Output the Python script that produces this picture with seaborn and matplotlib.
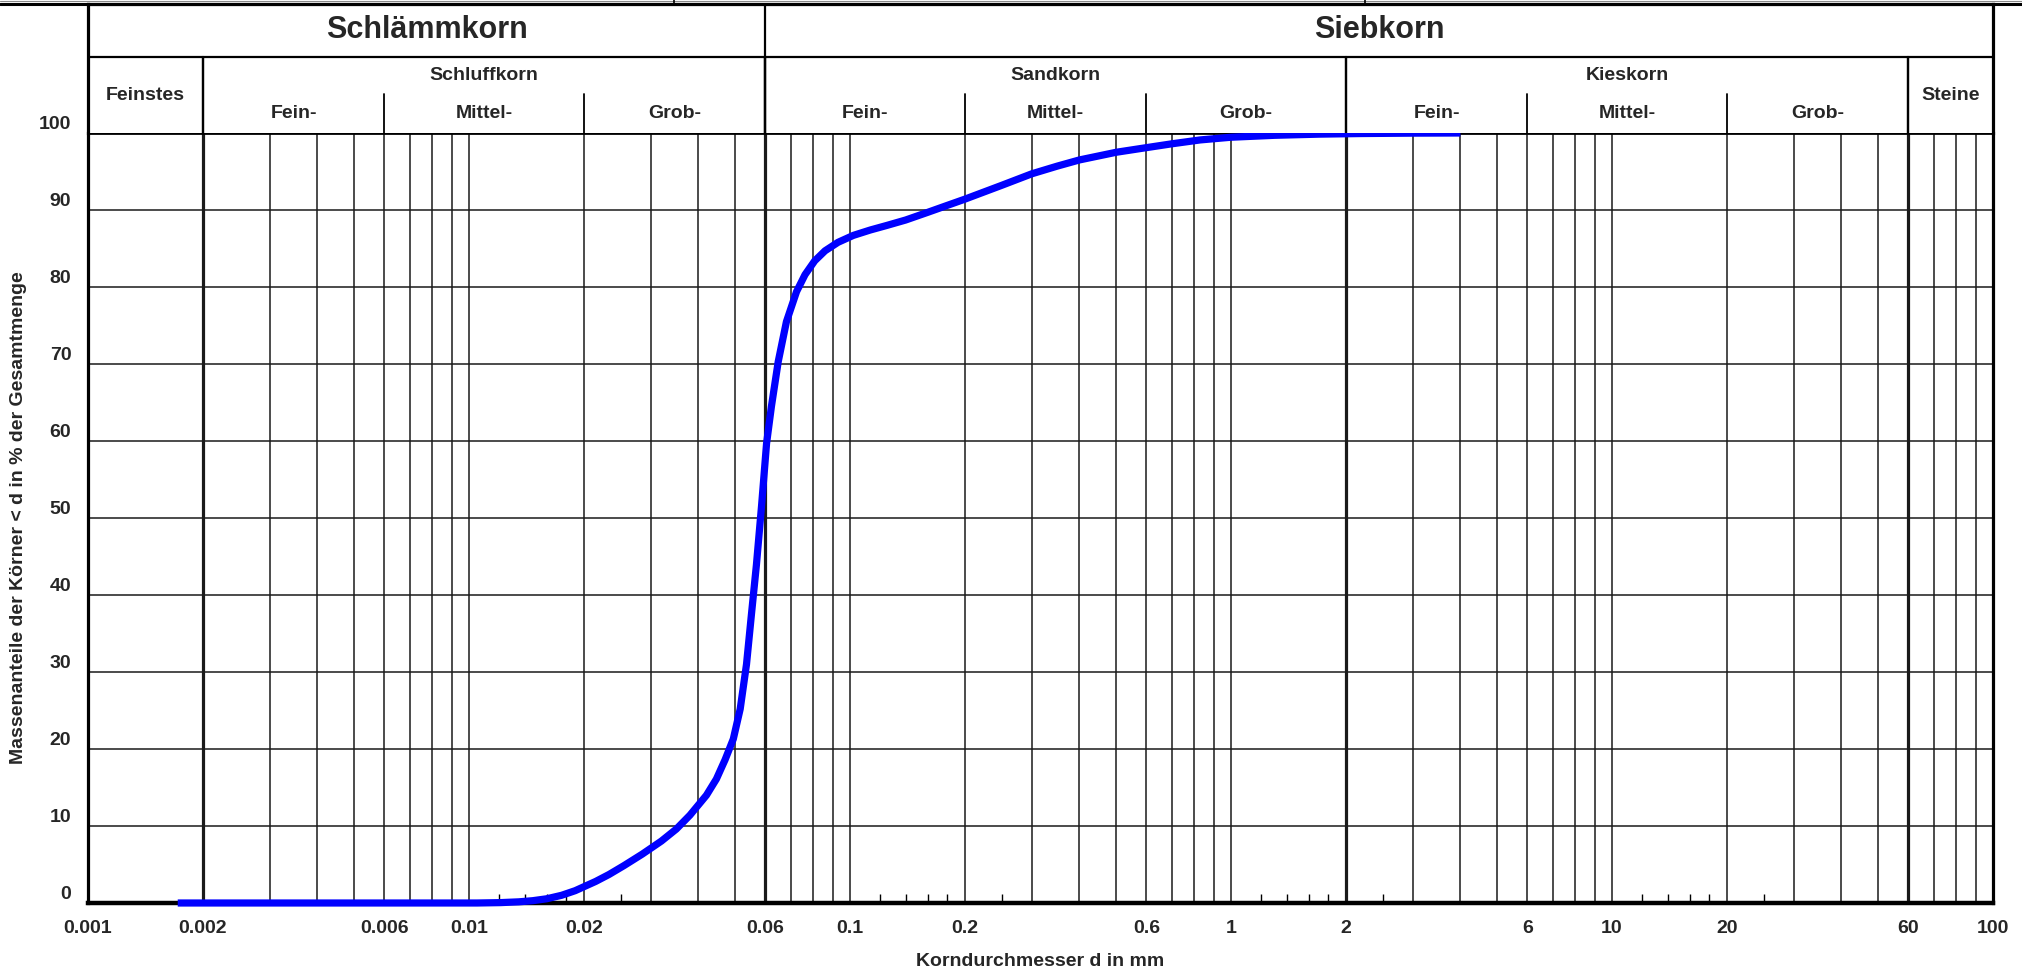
import numpy as np
import pandas as pd
import matplotlib
matplotlib.use('Agg')
import matplotlib.pyplot as plt
from matplotlib.ticker import FixedLocator, FixedFormatter, NullFormatter
from matplotlib.lines import Line2D
import seaborn as sns

# ── Data: grain size distribution (Sieblinie) ─────────────────────────────
diameter_mm = [0.00172, 0.003, 0.005, 0.008, 0.0105, 0.0121, 0.0135, 0.0147,
               0.016, 0.0175, 0.019, 0.02, 0.0215, 0.0233, 0.0255, 0.0285,
               0.032, 0.035, 0.038, 0.042, 0.0446, 0.047, 0.0494, 0.0515,
               0.0535, 0.0551, 0.0568, 0.0586, 0.0604, 0.0622, 0.0648, 0.0681,
               0.0724, 0.0762, 0.0808, 0.0860, 0.0930, 0.102, 0.113, 0.125,
               0.14, 0.16, 0.18, 0.2, 0.25, 0.30, 0.35, 0.40,
               0.50, 0.60, 0.70, 0.83, 1.0, 1.3, 1.7, 2.2,
               3.0, 4.0]
passing_pct = [0, 0, 0, 0, 0, 0.05, 0.15, 0.3,
               0.55, 1.0, 1.6, 2.1, 2.8, 3.7, 4.85, 6.35,
               8.05, 9.6, 11.4, 14.0, 16.1, 18.6, 21.3, 25.2,
               31.0, 37.4, 43.9, 51.6, 59.7, 64.5, 70.3, 75.5,
               79.4, 81.6, 83.4, 84.7, 85.8, 86.7, 87.4, 88.0,
               88.7, 89.7, 90.6, 91.4, 93.2, 94.7, 95.7, 96.5,
               97.5, 98.1, 98.6, 99.1, 99.45, 99.7, 99.85, 99.93,
               99.98, 100]

# axis ticks
xtick_vals = [0.001, 0.002, 0.006, 0.01, 0.02, 0.06, 0.1, 0.2, 0.6, 1, 2, 6, 10, 20, 60, 100]
xtick_labels = ['0.001', '0.002', '0.006', '0.01', '0.02', '0.06', '0.1', '0.2', '0.6',
                '1', '2', '6', '10', '20', '60', '100']
ytick_vals = list(range(0, 101, 10))

# grid: every 1..9 x decade, class limits drawn bold, small ticks in between
decades = [0.001, 0.01, 0.1, 1, 10]
grid_x = [m * d for d in decades for m in range(1, 10)][1:]
bold_x = [0.002, 0.06, 2, 60]
minor_x = [m * d for d in [0.01, 0.1, 1, 10] for m in (1.2, 1.4, 1.6, 1.8, 2.5)]

# header classes (name, lower limit, upper limit)
top_classes = [('Schlämmkorn', 0.001, 0.06), ('Siebkorn', 0.06, 100)]
main_classes = [('Schluffkorn', 0.002, 0.06), ('Sandkorn', 0.06, 2), ('Kieskorn', 2, 60)]
single_classes = [('Feinstes', 0.001, 0.002), ('Steine', 60, 100)]
sub_classes = [('Fein-', 0.002, 0.006), ('Mittel-', 0.006, 0.02), ('Grob-', 0.02, 0.06),
               ('Fein-', 0.06, 0.2), ('Mittel-', 0.2, 0.6), ('Grob-', 0.6, 2),
               ('Fein-', 2, 6), ('Mittel-', 6, 20), ('Grob-', 20, 60)]

df = pd.DataFrame({'d': diameter_mm, 'p': passing_pct})

# ── Style ─────────────────────────────────────────────────────────────────
sns.set_style('white')
plt.rcParams['font.family'] = ['Liberation Sans', 'DejaVu Sans']
plt.rcParams['font.weight'] = 'bold'
plt.rcParams['axes.labelweight'] = 'bold'

W, H = 2022, 976
fig = plt.figure(figsize=(W / 100, H / 100), dpi=100)

def fx(px):
    return px / W

def fy(py):
    return 1 - py / H

GRID_C = '#1a1a1a'
FS = 14

# ── Main axes ─────────────────────────────────────────────────────────────
ax = fig.add_axes([fx(88), fy(903), fx(1993) - fx(88), fy(133) - fy(903)])
ax.set_xscale('log')
ax.set_xlim(0.001, 100)
ax.set_ylim(0, 100)

for x in grid_x:
    lw = 2.3 if any(np.isclose(x, b) for b in bold_x) else 1.1
    ax.axvline(x, color=GRID_C, lw=lw, zorder=1)
for y in ytick_vals[1:-1]:
    ax.axhline(y, color=GRID_C, lw=1.1, zorder=1)

sns.lineplot(data=df, x='d', y='p', ax=ax, color='#0000ff', lw=5.2,
             estimator=None, zorder=5)
for ln in ax.lines[-1:]:
    ln.set_clip_on(False)
    ln.set_solid_capstyle('butt')
    ln.set_solid_joinstyle('round')

for side, w in [('left', 2.3), ('right', 2.3), ('top', 2.0), ('bottom', 3.2)]:
    ax.spines[side].set_visible(True)
    ax.spines[side].set_color('black')
    ax.spines[side].set_linewidth(w)

ax.xaxis.set_major_locator(FixedLocator(xtick_vals))
ax.xaxis.set_major_formatter(FixedFormatter(xtick_labels))
ax.xaxis.set_minor_locator(FixedLocator(minor_x))
ax.xaxis.set_minor_formatter(NullFormatter())
ax.set_yticks(ytick_vals)
ax.tick_params(axis='x', which='major', length=0, pad=12, labelsize=FS)
ax.tick_params(axis='x', which='minor', direction='in', length=6.5, width=1.0,
               bottom=True, color='black')
ax.tick_params(axis='y', which='major', length=0, pad=12, labelsize=FS)
for lab in ax.get_yticklabels():
    lab.set_verticalalignment('bottom')
for lab in ax.get_xticklabels() + ax.get_yticklabels():
    lab.set_fontweight('bold')

ax.set_xlabel('Korndurchmesser d in mm', fontsize=FS, fontweight='bold', va='center')
ax.xaxis.set_label_coords(0.5, -(961 - 903) / 770)
ax.set_ylabel('Massenanteile der Körner < d in % der Gesamtmenge', fontsize=FS,
              fontweight='bold', va='center')
ax.yaxis.set_label_coords(-(88 - 19) / 1905, 0.5)

# ── Header axes ───────────────────────────────────────────────────────────
axh = fig.add_axes([fx(88), fy(133), fx(1993) - fx(88), fy(4) - fy(133)])
axh.set_xscale('log')
axh.set_xlim(0.001, 100)
axh.set_ylim(0, 1)
axh.set_xticks([])
axh.set_yticks([])
axh.xaxis.set_minor_locator(FixedLocator([]))
for side, w in [('left', 2.3), ('right', 2.3), ('top', 2.3), ('bottom', 0)]:
    axh.spines[side].set_visible(w > 0)
    axh.spines[side].set_color('black')
    axh.spines[side].set_linewidth(w)

ROW = (133 - 57) / 129
SUB = (133 - 94) / 129
axh.axhline(ROW, color='black', lw=1.6)
axh.plot([0.06, 0.06], [0, 1], color='black', lw=1.6)
for _, a, b in main_classes + single_classes:
    for x in (a, b):
        if 0.001 < x < 100:
            axh.plot([x, x], [0, ROW], color='black', lw=1.6)
for _, a, b in sub_classes:
    if not any(np.isclose(a, c) for c in bold_x):
        axh.plot([a, a], [0, SUB], color='black', lw=1.3)

for name, a, b in top_classes:
    axh.text(np.sqrt(a * b), (133 - 30.5) / 129, name, ha='center', va='center',
             fontsize=22, fontweight='bold')
for name, a, b in main_classes:
    axh.text(np.sqrt(a * b), (133 - 75.5) / 129, name, ha='center', va='center',
             fontsize=FS, fontweight='bold')
for name, a, b in single_classes:
    axh.text(np.sqrt(a * b), (133 - 96) / 129, name, ha='center', va='center',
             fontsize=FS, fontweight='bold')
for name, a, b in sub_classes:
    axh.text(np.sqrt(a * b), (133 - 114) / 129, name, ha='center', va='center',
             fontsize=FS, fontweight='bold')

# cut-off frame line at the very top of the sheet
fig.add_artist(Line2D([0, 1], [fy(3.5), fy(3.5)], transform=fig.transFigure,
                      color='black', lw=2.2))
fig.add_artist(Line2D([0, 1], [fy(0.5), fy(0.5)], transform=fig.transFigure,
                      color='#888888', lw=0.8))
for px in (674, 1365):
    fig.add_artist(Line2D([fx(px), fx(px)], [fy(0), fy(4)], transform=fig.transFigure,
                          color='black', lw=1.2))

fig.savefig('out.png', dpi=100)
